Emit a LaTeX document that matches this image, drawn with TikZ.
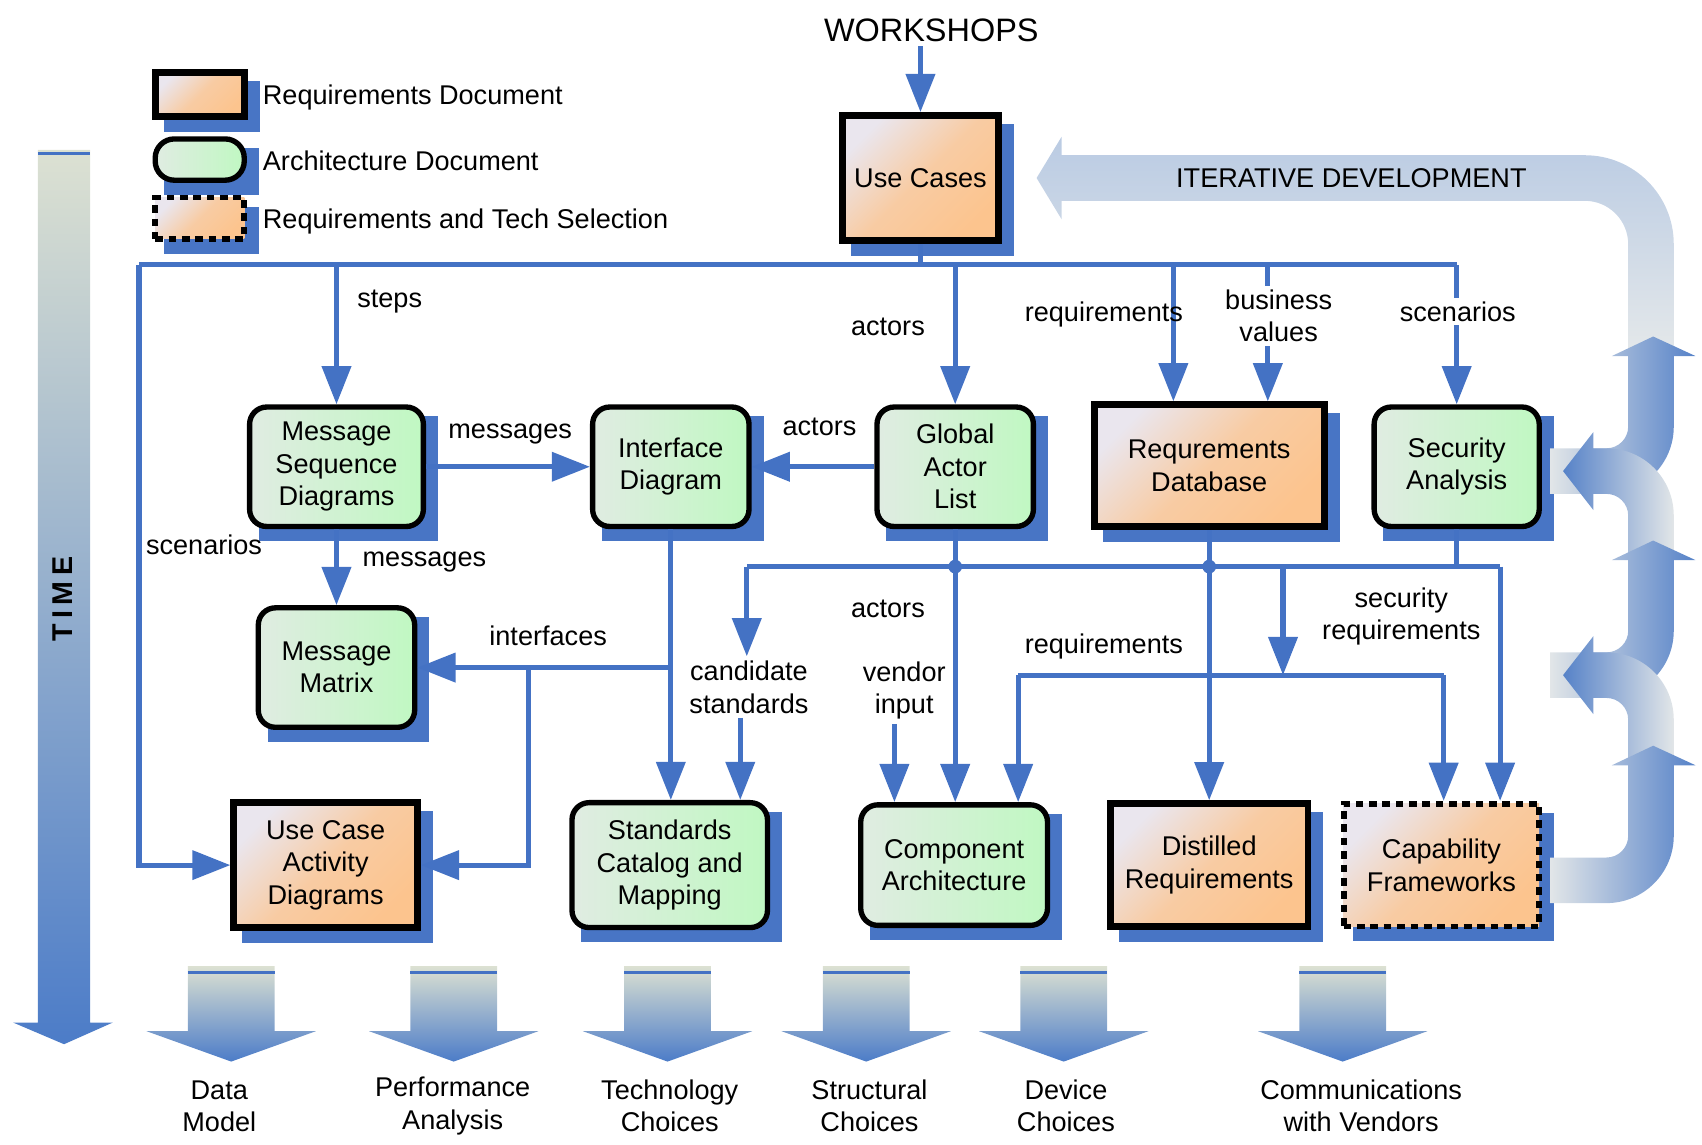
\documentclass[tikz,border=0pt]{standalone}
\usepackage{fontspec}
\setmainfont{Liberation Sans}
\usetikzlibrary{arrows.meta,calc,backgrounds}
\definecolor{lineblue}{RGB}{68,114,196}
\definecolor{shadeblue}{RGB}{72,117,197}
\definecolor{orgL}{RGB}{234,230,238}
\definecolor{orgR}{RGB}{252,196,142}
\definecolor{grnL}{RGB}{224,236,226}
\definecolor{grnR}{RGB}{192,248,194}
\definecolor{fatT}{RGB}{220,225,210}
\definecolor{fatB}{RGB}{76,124,200}
\definecolor{loopL}{RGB}{226,230,232}
\definecolor{loopB}{RGB}{86,130,200}
\definecolor{iterB}{RGB}{186,203,227}
\definecolor{iterL}{RGB}{228,232,234}

\begin{document}
\begin{tikzpicture}[x=0.01cm,y=-0.01cm,
  txt/.style={font=\fontsize{7.1}{8.5}\selectfont,align=center,inner sep=1pt},
  reqdoc/.style={txt,draw,line width=1.8pt,top color=orgL,bottom color=orgR,middle color=orgR!78!orgL,shading angle=45},
  archdoc/.style={txt,draw,line width=1.4pt,rounded corners=4.5pt,left color=grnL,right color=grnR},
  techsel/.style={reqdoc,line width=1.5pt,dash pattern=on 2pt off 1.5pt},
  lbl/.style={txt},
  conn/.style={draw=lineblue,line width=1.35pt},
  flow/.style={conn,-{Triangle[length=10pt,width=7.5pt]}}]
\useasboundingbox (0,0) rectangle (1568,1054);

\shade[top color=fatT,bottom color=fatB] (35,138) -- (83,138) -- (83,942) -- (104,942) -- (59,962) -- (12,942) -- (35,942) -- cycle;
\draw[lineblue,line width=0.8pt] (35,141) -- (83,141);
\node[txt,rotate=90,font=\fontsize{7.5}{9}\selectfont\bfseries\addfontfeature{LetterSpace=20}] (time) at (58,552) {TIME};

\foreach \x/\lx/\t [count=\i] in {213/202/{Data\\Model},418/417/{Performance\\Analysis},615/617/{Technology\\Choices},798/801/{Structural\\Choices},980/982/{Device\\Choices},1237/1254/{Communications\\with Vendors}}{
  \shade[top color=fatT,bottom color=fatB] (\x-40,890) -- (\x+40,890) -- (\x+40,950) -- (\x+78,950) -- (\x,978) -- (\x-78,950) -- (\x-40,950) -- cycle;
  \draw[lineblue,line width=0.8pt] (\x-40,896) -- (\x+40,896);
  \node[lbl] (out\i) at (\lx,1019) {\t};
}

\shade[top color=iterB,bottom color=iterL] (1500,326) -- (1500,225) arc(0:-90:40) -- (978,185) -- (978,202) -- (955,164) -- (978,126) -- (978,143) -- (1460,143) arc(-90:0:82) -- (1542,326) -- cycle;
\foreach \yb in {434,622}{
  \shade[left color=loopL,right color=loopB] (1428,\yb-21) -- (1480,\yb-21) arc(90:0:20) -- (1500,\yb-106) -- (1485,\yb-106) -- (1523,\yb-124) -- (1562,\yb-106) -- (1542,\yb-106) -- (1542,\yb-41) arc(0:90:62) -- (1428,\yb+21) -- cycle;
  \shade[left color=loopB,right color=loopL] (1500,\yb+78) -- (1500,\yb+41) arc(0:-90:20) -- (1468,\yb+21) -- (1468,\yb+36) -- (1440,\yb) -- (1468,\yb-36) -- (1468,\yb-21) -- (1480,\yb-21) arc(-90:0:62) -- (1542,\yb+78) -- cycle;
}
\shade[left color=loopL,right color=loopB] (1428,790) -- (1480,790) arc(90:0:20) -- (1500,705) -- (1485,705) -- (1523,687) -- (1562,705) -- (1542,705) -- (1542,770) arc(0:90:62) -- (1428,832) -- cycle;
\node[txt] (iter) at (1245,164) {ITERATIVE DEVELOPMENT};

\node[reqdoc,minimum width=0.82cm,minimum height=0.4cm] (leg1) at (184,87) {};
\node[archdoc,rounded corners=5pt,minimum width=0.82cm,minimum height=0.38cm] (leg2) at (184,147) {};
\node[techsel,minimum width=0.82cm,minimum height=0.38cm] (leg3) at (184,201) {};
\node[txt,anchor=west] (leg1t) at (238,90) {Requirements Document};
\node[txt,anchor=west] (leg2t) at (238,148) {Architecture Document};
\node[txt,anchor=west] (leg3t) at (238,204) {Requirements and Tech Selection};

\node[txt,font=\fontsize{8.5}{10}\selectfont] (ws) at (858,28) {WORKSHOPS};
\node[reqdoc,minimum width=1.44cm,minimum height=1.15cm] (uc) at (848,164) {Use Cases};
\node[archdoc,minimum width=1.6cm,minimum height=1.1cm] (msd) at (310,430) {Message\\Sequence\\Diagrams};
\node[archdoc,minimum width=1.44cm,minimum height=1.1cm] (intf) at (618,430) {Interface\\Diagram};
\node[archdoc,minimum width=1.44cm,minimum height=1.1cm] (gal) at (880,430) {Global\\Actor\\List};
\node[reqdoc,minimum width=2.12cm,minimum height=1.12cm] (rdb) at (1114,429) {Requrements\\Database};
\node[archdoc,minimum width=1.52cm,minimum height=1.1cm] (sec) at (1342,430) {Security\\Analysis};
\node[archdoc,minimum width=1.44cm,minimum height=1.1cm] (mmx) at (310,615) {Message\\Matrix};
\node[reqdoc,minimum width=1.69cm,minimum height=1.15cm] (ucad) at (300,797) {Use Case\\Activity\\Diagrams};
\node[archdoc,minimum width=1.8cm,minimum height=1.15cm] (std) at (617,797) {Standards\\Catalog and\\Mapping};
\node[archdoc,minimum width=1.72cm,minimum height=1.11cm] (comp) at (879,797) {Component\\Architecture};
\node[reqdoc,minimum width=1.82cm,minimum height=1.13cm] (dist) at (1114,797) {Distilled\\Requirements};
\node[techsel,minimum width=1.8cm,minimum height=1.13cm] (capf) at (1328,797) {Capability\\Frameworks};

\begin{scope}[on background layer]
\foreach \b in {leg1,leg2,leg3,uc,msd,intf,gal,rdb,sec,mmx,ucad,std,comp,dist,capf}
  \fill[shadeblue] ($(\b.south west)+(11,11)$) rectangle ($(\b.north east)+(11,11)$);
\end{scope}

\node[lbl] (cand) at (690,633) {candidate\\standards};
\node[lbl] (vend) at (833,636) {vendor\\input};

\coordinate (tbL) at (128,244);
\coordinate (tbR) at (1342,244);
\coordinate (rq) at ($(rdb.north)+(-33,0)$);
\coordinate (bv) at ($(rdb.north)+(54,0)$);
\draw[flow] (ws.south -| uc.north) -- (uc.north);
\draw[conn] (uc.south) -- (uc.south |- tbL);
\draw[conn] (tbL) -- (tbR);
\draw[flow] (tbL) |- (ucad.west);
\draw[flow] (msd.north |- tbL) -- (msd.north);
\draw[flow] (gal.north |- tbL) -- (gal.north);
\draw[flow] (rq |- tbL) -- (rq);
\draw[flow] (bv |- tbL) -- (bv);
\draw[flow] (tbR) -- (sec.north);
\draw[flow] (msd.east) -- (intf.west);
\draw[flow] (gal.west) -- (intf.east);
\draw[flow] (msd.south) -- (mmx.north);
\draw[flow] (intf.south) -- (intf.south |- std.north);
\coordinate (ij) at (intf.south |- mmx.east);
\coordinate (ik) at (487,615);
\draw[flow] (ij) -- (mmx.east);
\draw[flow] (ik) |- (ucad.east);
\draw[flow] (gal.south) -- (gal.south |- comp.north);
\draw[flow] (rdb.south) -- (dist.north);

\coordinate (mbL) at (688,522);
\coordinate (mbR) at (1382,522);
\draw[conn] (mbL) -- (mbR);
\draw[conn] (sec.south) -- (sec.south |- mbR);
\fill[lineblue] (gal.south |- mbL) circle (1.8pt);
\fill[lineblue] (rdb.south |- mbL) circle (1.8pt);
\draw[flow] (mbL) -- (mbL |- cand.north);
\draw[flow] (mbR) -- (mbR |- capf.north);
\coordinate (cs) at ($(std.north)+(65,0)$);
\draw[flow] (cand.south -| cs) -- (cs);
\coordinate (vi) at ($(comp.north)+(-55,0)$);
\draw[flow] (vend.south -| vi) -- (vi);
\coordinate (sj) at (1182,522);
\coordinate (srL) at (938,622);
\coordinate (srR) at (1330,622);
\draw[flow] (sj) -- (sj |- srL);
\draw[conn] (srL) -- (srR);
\draw[flow] (srL) -- (srL |- comp.north);
\draw[flow] (srR) -- (srR |- capf.north);

\node[lbl] (lsteps) at (359,278) {steps};
\node[lbl] (lact1) at (818,301) {actors};
\node[lbl] (lreq1) at (1017,290) {requirements};
\node[lbl,fill=white] (lbus) at (1178,291) {business\\values};
\node[lbl,fill=white] (lscen1) at (1343,287) {scenarios};
\node[lbl] (lmsg1) at (470,400) {messages};
\node[lbl] (lact2) at (755,393) {actors};
\node[lbl] (lscen2) at (188,502) {scenarios};
\node[lbl] (lmsg2) at (391,518) {messages};
\node[lbl] (lintf) at (505,586) {interfaces};
\node[lbl] (lact3) at (818,561) {actors};
\node[lbl] (lreq2) at (1017,596) {requirements};
\node[lbl] (lsec) at (1291,568) {security\\requirements};
\end{tikzpicture}
\end{document}
